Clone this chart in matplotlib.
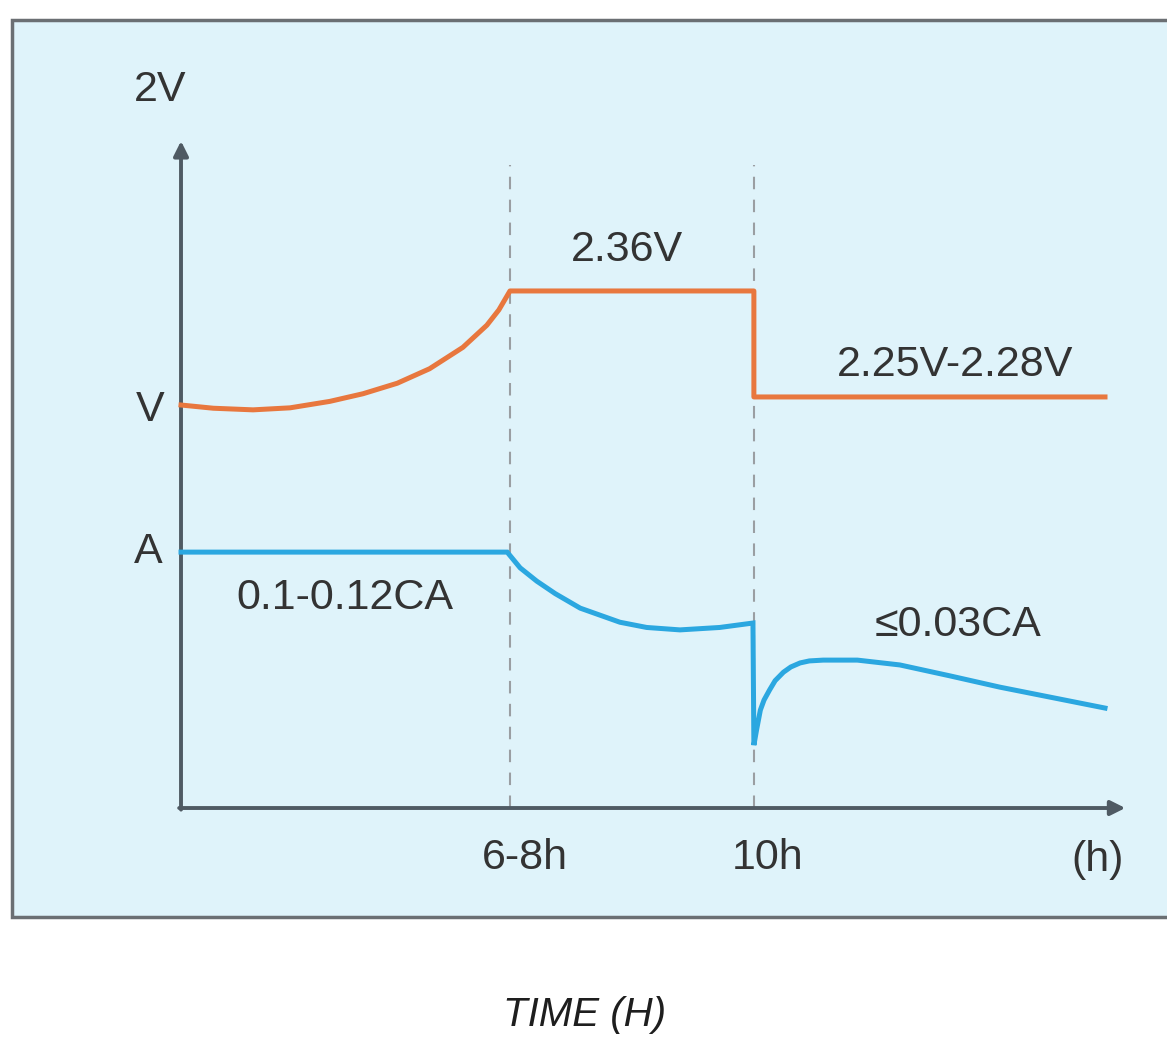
import matplotlib.pyplot as plt
from matplotlib.patches import Rectangle

# schematic units: x 0..100 along the time axis, y 100 = "V" level
t_bulk = 35.6     # 6-8h
t_float = 62.0    # 10h
t_end = 100.0

# voltage curve (orange)
volt_x = [0, 3.5, 7.8, 11.8, 16.1, 19.7, 23.4, 26.9, 30.5, 33.1, 34.4, 35.6,
          t_float, t_float, t_end]
volt_y = [100, 99.2, 98.8, 99.3, 100.9, 102.8, 105.4, 109.0, 114.3, 119.8, 123.6, 128.3,
          128.3, 102.0, 102.0]

# current curve (blue)
curr_x = [0, 35.3, 36.7, 38.5, 40.5, 43.2, 47.5, 50.4, 54.0, 58.3, 61.9, 62.0,
          62.3, 62.7, 63.1, 63.7, 64.3, 65.2, 66.0, 67.0, 68.0, 69.5, 73.2, 77.8,
          83.2, 88.6, 94.3, 100]
curr_y = [63.5, 63.5, 59.6, 56.3, 53.2, 49.6, 46.1, 44.8, 44.2, 44.8, 45.9, 15.6,
          19.5, 24.3, 26.8, 29.3, 31.6, 33.7, 35.0, 36.0, 36.5, 36.7, 36.7, 35.5,
          32.8, 30.0, 27.4, 24.8]

labels = [
    ("2V", -2.27, 178.2),
    ("V", -3.35, 98.8),
    ("A", -3.57, 63.5),
    ("6-8h", 37.2, -12.4),
    ("10h", 63.5, -12.4),
    ("(h)", 99.2, -12.9),
    ("2.36V", 48.3, 138.5),
    ("2.25V-2.28V", 83.8, 109.9),
    ("0.1-0.12CA", 17.7, 52.1),
    ("\u22640.03CA", 84.1, 45.4),
]

orange = '#E8773E'
blue = '#2BA7E0'
text_col = '#333333'
axis_col = '#4f5a63'

plt.rcParams['font.family'] = ['Liberation Sans', 'DejaVu Sans']

fig = plt.figure(figsize=(11.67, 10.43), dpi=100)
fig.patch.set_facecolor('white')

ax = fig.add_axes([0, 0, 1, 1])
ax.set_xlim(-19.59, 106.71)
ax.set_ylim(-58.31, 200.5)
ax.axis('off')

# light blue panel with dark border (drawn inside the axes, below everything)
panel = Rectangle((12 / 1167, 1 - 917 / 1043), 1.0, (917 - 20) / 1043,
                  transform=fig.transFigure, facecolor='#DFF3FA',
                  edgecolor='#6b6f73', linewidth=2.5, zorder=0)
ax.add_artist(panel)

# dashed phase boundaries
for xb in (t_bulk, t_float):
    ax.plot([xb, xb], [0, 159.5], color='#9a9ea2', lw=1.5, ls=(0, (6, 5)), zorder=2)

# axes with arrows
ax.annotate('', xy=(0, 165.5), xytext=(0, -0.4),
            arrowprops=dict(arrowstyle='-|>', color=axis_col, lw=2.8,
                            mutation_scale=22, shrinkA=0, shrinkB=0), zorder=3)
ax.annotate('', xy=(102.2, 0), xytext=(-0.2, 0),
            arrowprops=dict(arrowstyle='-|>', color=axis_col, lw=2.8,
                            mutation_scale=22, shrinkA=0, shrinkB=0), zorder=3)

ax.plot(volt_x, volt_y, color=orange, lw=3.6, solid_joinstyle='round', zorder=4)
ax.plot(curr_x, curr_y, color=blue, lw=3.6, solid_joinstyle='miter', zorder=4)

for txt, x, y in labels:
    ax.text(x, y, txt, fontsize=31, color=text_col, ha='center', va='center', zorder=5)

ax.text(43.7, -51.4, "TIME (H)", fontsize=29, style='italic', color='#1e1e1e',
        ha='center', va='center')

fig.savefig('out.png', dpi=100)
